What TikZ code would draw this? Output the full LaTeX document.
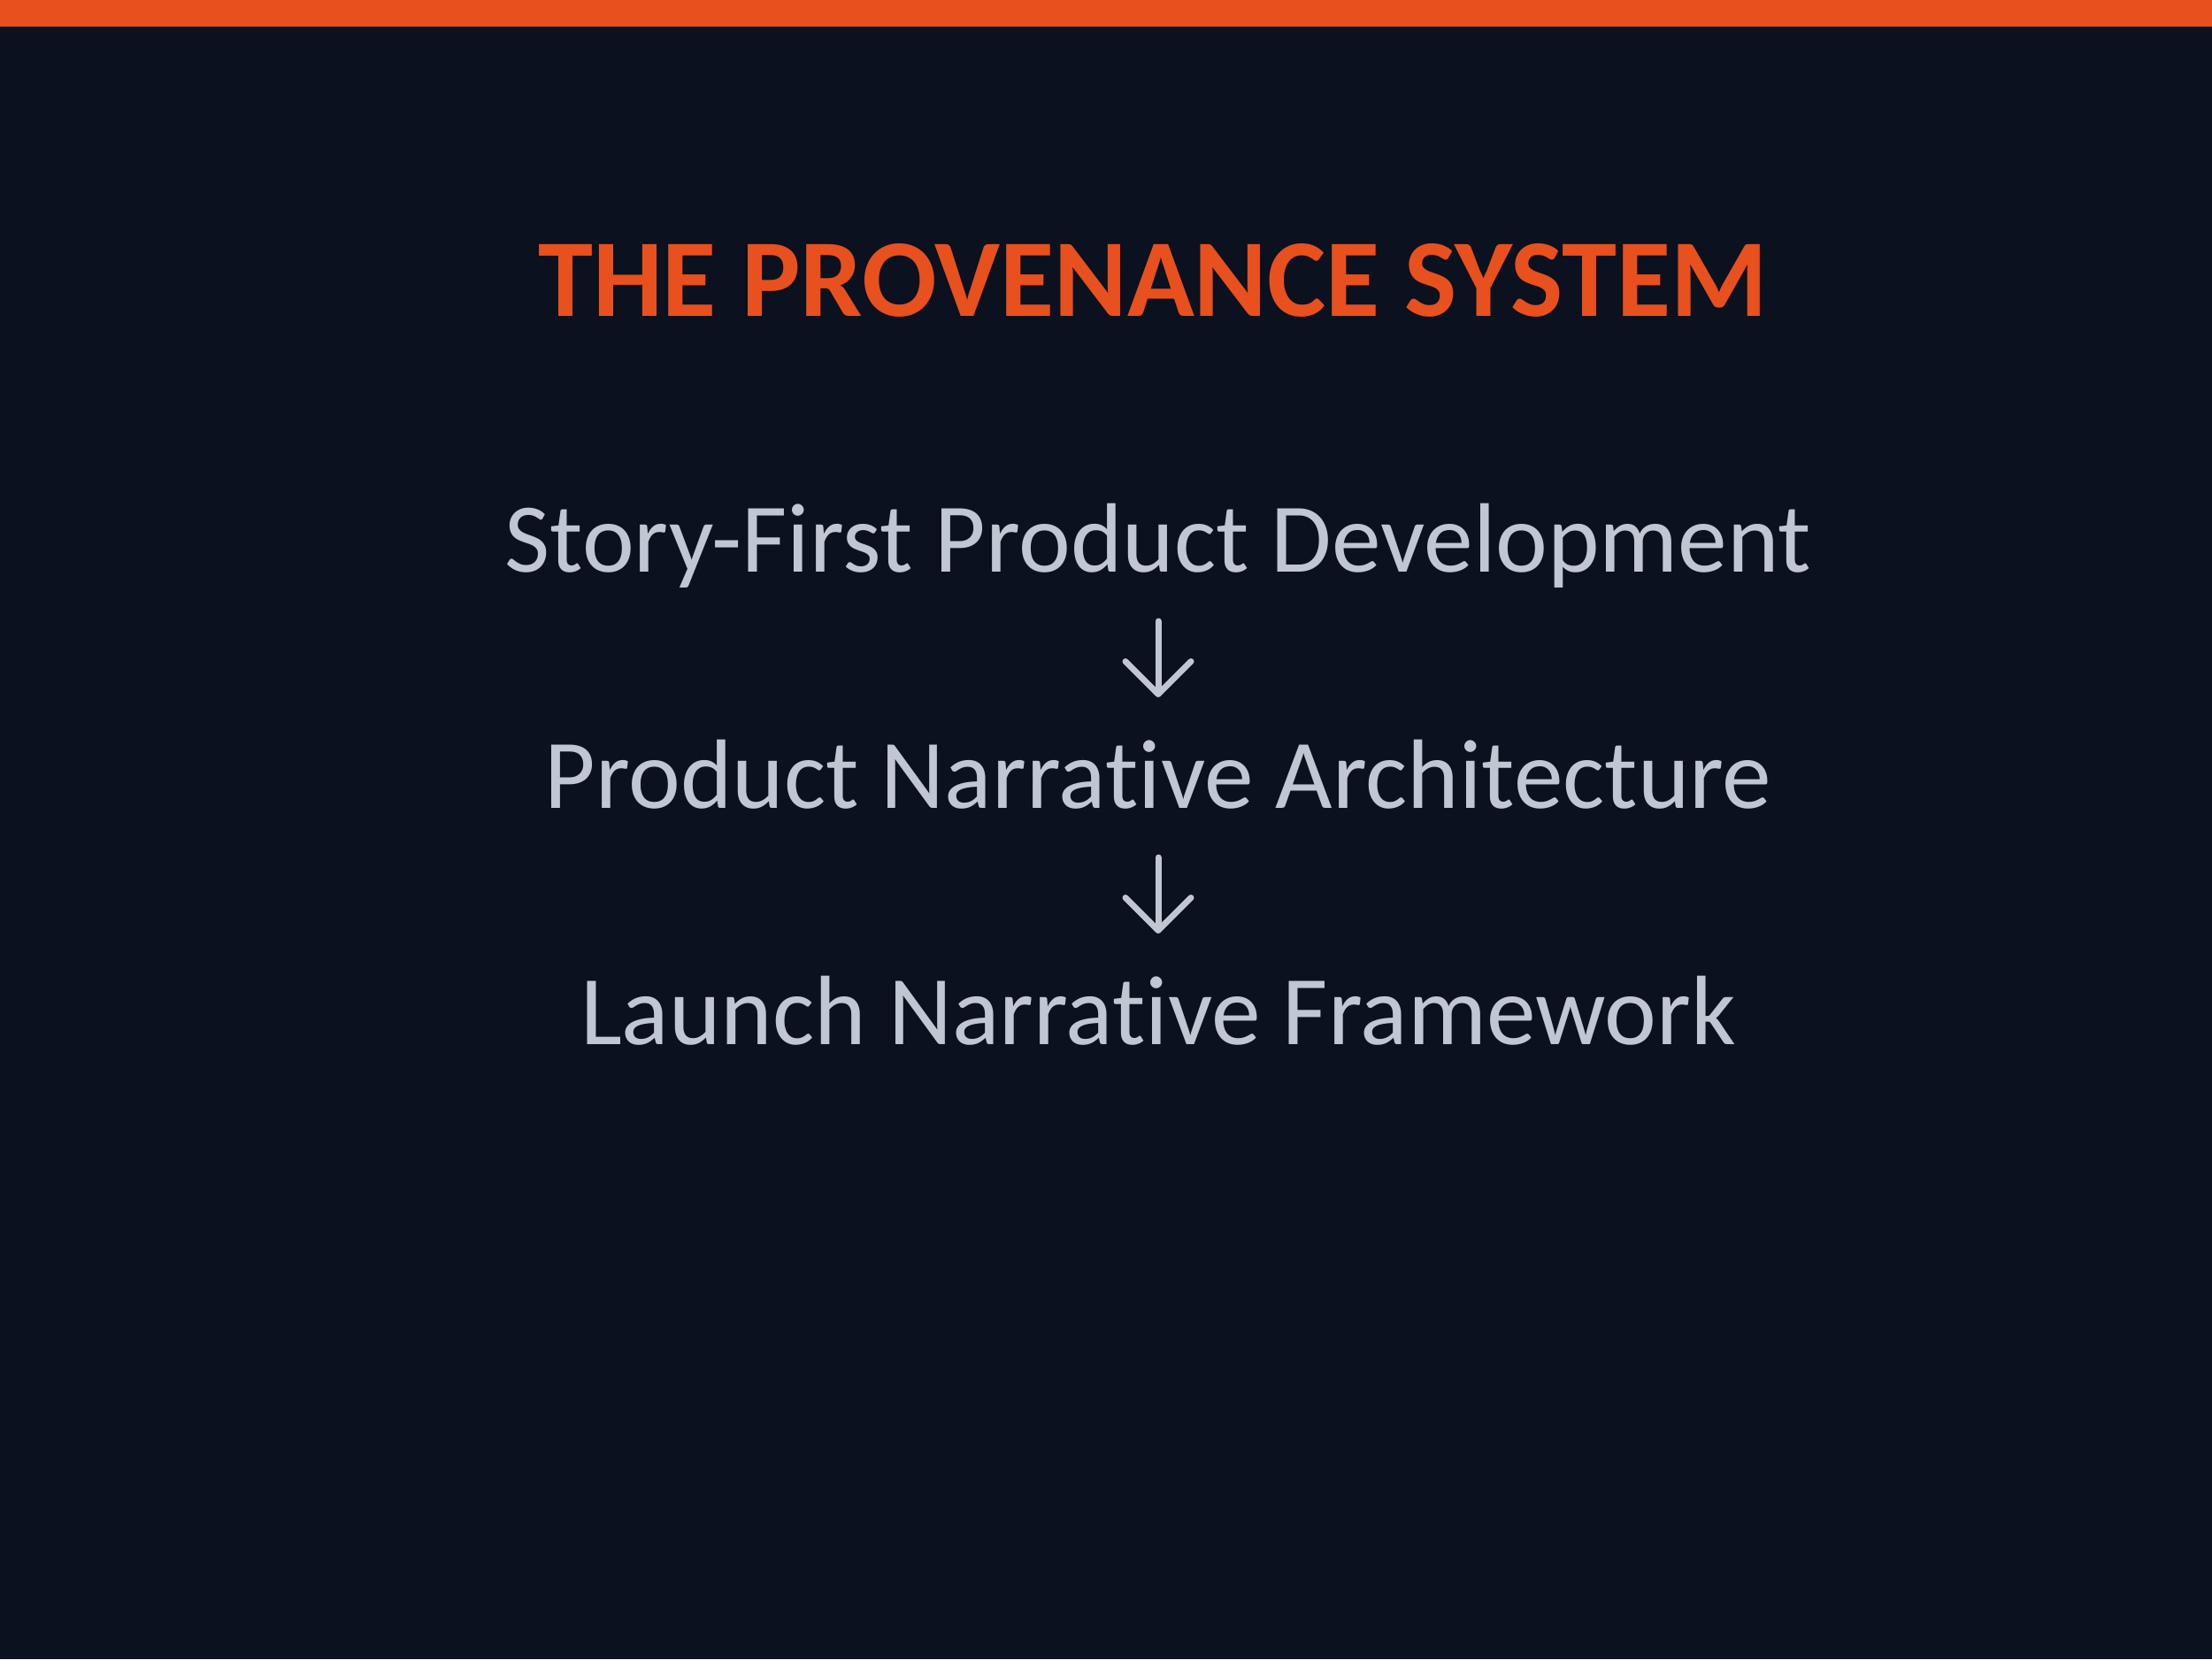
\documentclass[tikz,border=0pt]{standalone}
\usepackage{fontspec}
\setmainfont{Carlito}[Ligatures=NoCommon]
\usetikzlibrary{arrows.meta}
\definecolor{bgdark}{HTML}{0B111E}
\definecolor{accent}{HTML}{E8501E}
\definecolor{txtgray}{HTML}{C0C6D2}
\tikzset{
  titletext/.style={text=accent, font=\fontsize{35.6}{40}\selectfont\bfseries, anchor=base, inner sep=0pt},
  steptext/.style={text=txtgray, font=\fontsize{31.7}{36}\selectfont, anchor=base, inner sep=0pt},
  flowarrow/.style={draw=txtgray, line width=0.07cm, line cap=round, line join=round,
    -{Straight Barb[length=0.37cm, width=0.74cm, round]}}
}
\begin{document}
\begin{tikzpicture}
\fill[bgdark] (0,0) rectangle (25,-18.75);
\useasboundingbox (0,0) rectangle (25,-18.75);
\fill[accent] (0,0) rectangle (25,-0.30);
\node[titletext] (title) at (13.03,-3.57) {THE PROVENANCE SYSTEM};
\node[steptext] (s1) at (13.09,-6.46) {Story-First Product Development};
\node[steptext] (s2) at (13.09,-9.13) {Product Narrative Architecture};
\node[steptext] (s3) at (13.09,-11.80) {Launch Narrative Framework};
\coordinate (a1s) at (13.09,-7.02);
\coordinate (a1e) at (13.09,-7.88);
\coordinate (a2s) at (13.09,-9.69);
\coordinate (a2e) at (13.09,-10.55);
\draw[flowarrow] (a1s) -- (a1e);
\draw[flowarrow] (a2s) -- (a2e);
\end{tikzpicture}
\end{document}
